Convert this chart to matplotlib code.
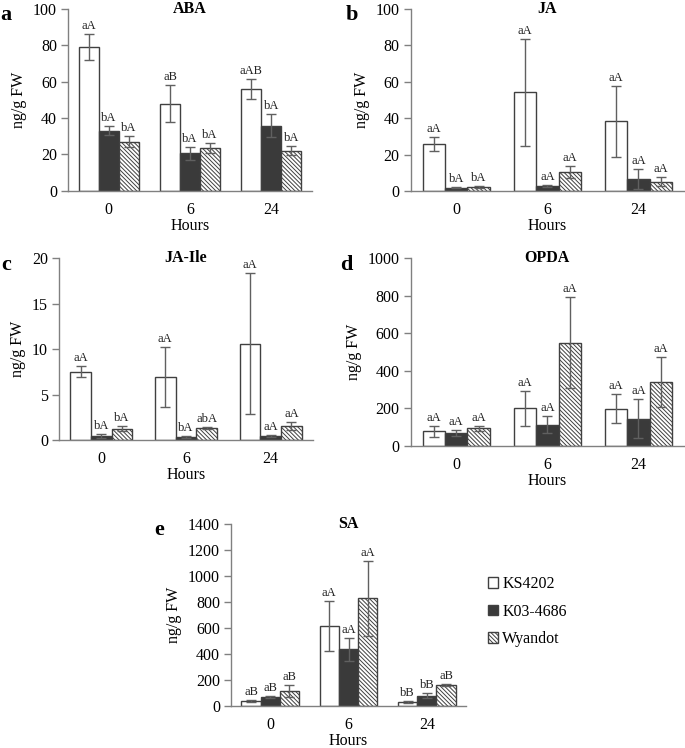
import matplotlib
matplotlib.use("Agg")
import matplotlib.pyplot as plt
import numpy as np
from matplotlib.patches import Patch

plt.rcParams['font.family'] = ['Liberation Serif', 'DejaVu Serif']
plt.rcParams['hatch.linewidth'] = 0.7
plt.rcParams['hatch.color'] = '#404040'

hours = ['0', '6', '24']
genotypes = ['KS4202', 'K03-4686', 'Wyandot']

# ABA
aba_mean = [[79, 47.9, 56.1], [33, 20.5, 35.8], [27, 23.7, 22]]
aba_err = [[7, 10, 5.5], [2.4, 3.7, 6.4], [3, 2.7, 2.4]]
aba_lab = [['aA', 'aB', 'aAB'], ['bA', 'bA', 'bA'], ['bA', 'bA', 'bA']]
# JA
ja_mean = [[25.9, 54.2, 38.2], [1.8, 2.9, 6.8], [2.2, 10.5, 5.1]]
ja_err = [[3.9, 29.3, 19.3], [0.3, 0.5, 5.5], [0.3, 3.3, 2.6]]
ja_lab = [['aA', 'aA', 'aA'], ['bA', 'aA', 'aA'], ['bA', 'aA', 'aA']]
# JA-Ile
jaile_mean = [[7.52, 6.97, 10.6], [0.44, 0.37, 0.44], [1.25, 1.32, 1.5]]
jaile_err = [[0.6, 3.3, 7.75], [0.18, 0.1, 0.1], [0.25, 0.1, 0.45]]
jaile_lab = [['aA', 'aA', 'aA'], ['bA', 'bA', 'aA'], ['bA', 'abA', 'aA']]
# OPDA
opda_mean = [[78, 202, 199], [71, 114, 145], [94, 551, 339]]
opda_err = [[29, 93, 78], [16, 46, 104], [14, 241, 133]]
opda_lab = [['aA', 'aA', 'aA'], ['aA', 'aA', 'aA'], ['aA', 'aA', 'aA']]
# SA
sa_mean = [[36, 613, 28], [67, 433, 77], [110, 826, 159]]
sa_err = [[8, 192, 5], [7, 87, 18], [46, 287, 6]]
sa_lab = [['aB', 'aA', 'bB'], ['aB', 'aA', 'bB'], ['aB', 'aA', 'aB']]

W, H = 685, 748
fig = plt.figure(figsize=(W / 100, H / 100), dpi=100)

def rect(l, r, t, b):
    return [l / W, 1 - b / H, (r - l) / W, (b - t) / H]

AX_COL = '#808080'
EDGE = '#404040'
DARK = '#3a3a3a'
ERR = '#606060'

styles = [dict(facecolor='white', edgecolor=EDGE, hatch=None),
          dict(facecolor=DARK, edgecolor=EDGE, hatch=None),
          dict(facecolor='white', edgecolor=EDGE, hatch='\\\\\\\\\\\\\\\\')]

def panel(pos, means, errs, labs, ymax, ystep, title, letter, letter_xy):
    ax = fig.add_axes(rect(*pos))
    x = np.arange(len(hours)) + 0.5
    bw = 0.245
    for i in range(3):
        xs = x + (i - 1) * bw
        ax.bar(xs, means[i], width=bw, linewidth=1.0, zorder=2, **styles[i])
        ax.errorbar(xs, means[i], yerr=errs[i], fmt='none', ecolor=ERR,
                    elinewidth=1.0, capsize=3.5, capthick=1.0, zorder=3)
        for xi, m, e, s in zip(xs, means[i], errs[i], labs[i]):
            ax.annotate(s, (xi, m + e), xytext=(0, 1.5), textcoords='offset points',
                        ha='center', va='bottom', fontsize=9, color='#222222',
                        annotation_clip=False)
    ax.set_xlim(0, 3)
    ax.set_ylim(0, ymax)
    ax.set_yticks(np.arange(0, ymax + ystep / 2, ystep))
    ax.set_xticks(x)
    ax.set_xticklabels(hours)
    for sp in ['top', 'right']:
        ax.spines[sp].set_visible(False)
    for sp in ['left', 'bottom']:
        ax.spines[sp].set_color(AX_COL)
        ax.spines[sp].set_linewidth(1.0)
    ax.tick_params(axis='x', length=0, pad=8, labelsize=11.5)
    ax.tick_params(axis='y', length=5, width=1.0, color=AX_COL, pad=3, labelsize=11.5)
    ax.set_ylabel('ng/g FW', fontsize=11.5, labelpad=4)
    ax.set_xlabel('Hours', fontsize=11.5, labelpad=0)
    ax.text(0.5, 1.0, title, transform=ax.transAxes, ha='center', va='center',
            fontsize=11.5, fontweight='bold')
    fig.text(letter_xy[0] / W, 1 - letter_xy[1] / H, letter, ha='left', va='center',
             fontsize=16, fontweight='bold')
    return ax

panel((68, 312, 9, 190.7), aba_mean, aba_err, aba_lab, 100, 20, 'ABA', 'a', (0, 15))
panel((410.7, 684, 9, 191), ja_mean, ja_err, ja_lab, 100, 20, 'JA', 'b', (346, 15))
panel((59, 313, 258.3, 440), jaile_mean, jaile_err, jaile_lab, 20, 5, 'JA-Ile', 'c', (1, 265))
panel((410.7, 684, 258.3, 446), opda_mean, opda_err, opda_lab, 1000, 200, 'OPDA', 'd', (340, 265))
panel((231, 466, 523.7, 705.7), sa_mean, sa_err, sa_lab, 1400, 200, 'SA', 'e', (154, 530))

handles = [Patch(facecolor=s['facecolor'], edgecolor=EDGE, hatch=s['hatch'], linewidth=1.0)
           for s in styles]
fig.legend(handles, genotypes, loc='upper left', bbox_to_anchor=(488 / W, 1 - 576 / H),
           frameon=False, fontsize=11.5, handlelength=0.65, handleheight=0.65,
           handletextpad=0.25, labelspacing=0.72, borderaxespad=0, borderpad=0)

fig.savefig('out.png', dpi=100)
